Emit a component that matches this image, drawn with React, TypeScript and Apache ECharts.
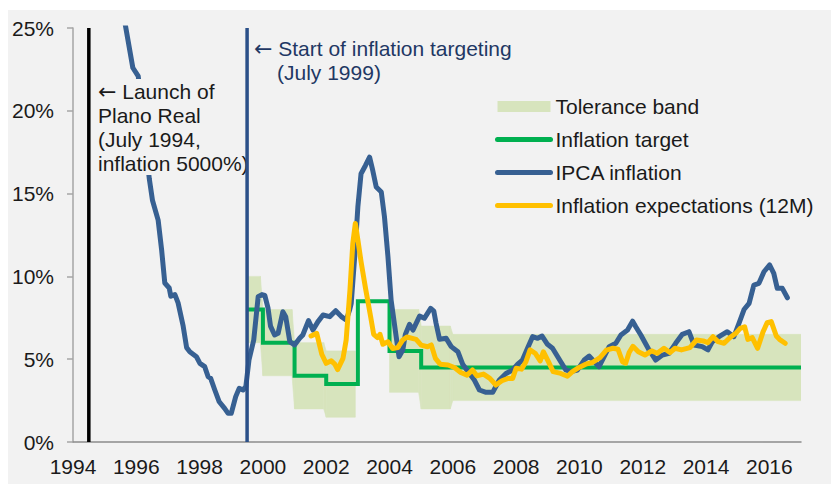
import React, { useEffect, useRef } from 'react';
import * as echarts from 'echarts';

// ---------- data ----------
const ipcaYears = [
  1995.57, 1995.67, 1995.89, 1996.06, 1996.41, 1996.51, 1996.69, 1996.8, 1996.9, 1997.04,
  1997.09, 1997.22, 1997.32, 1997.48, 1997.59, 1997.69, 1997.9, 1998.01, 1998.16, 1998.27,
  1998.35, 1998.48, 1998.62, 1998.79, 1998.9, 1999.0, 1999.14, 1999.25, 1999.37, 1999.46,
  1999.56, 1999.71, 1999.85, 1999.97, 2000.06, 2000.16, 2000.24, 2000.37, 2000.48, 2000.63,
  2000.72, 2000.85, 2001.0, 2001.16, 2001.26, 2001.44, 2001.58, 2001.74, 2001.9, 2002.11,
  2002.3, 2002.48, 2002.63, 2002.74, 2002.79, 2002.9, 2003.0, 2003.1, 2003.24, 2003.37,
  2003.47, 2003.58, 2003.74, 2003.84, 2003.95, 2004.05, 2004.21, 2004.3, 2004.42, 2004.5,
  2004.63, 2004.74, 2004.95, 2005.1, 2005.3, 2005.4, 2005.47, 2005.58, 2005.79, 2005.95,
  2006.16, 2006.31, 2006.52, 2006.68, 2006.84, 2007.05, 2007.26, 2007.47, 2007.68, 2007.89,
  2008.05, 2008.2, 2008.37, 2008.52, 2008.68, 2008.82, 2008.99, 2009.15, 2009.41, 2009.57,
  2009.73, 2009.94, 2010.15, 2010.31, 2010.47, 2010.62, 2010.78, 2010.94, 2011.15, 2011.31,
  2011.52, 2011.68, 2011.78, 2011.94, 2012.1, 2012.2, 2012.41, 2012.62, 2012.83, 2013.04,
  2013.25, 2013.46, 2013.62, 2013.88, 2014.06, 2014.2, 2014.41, 2014.67, 2014.88, 2015.04,
  2015.2, 2015.36, 2015.51, 2015.67, 2015.83, 2016.01, 2016.14, 2016.25, 2016.41, 2016.57,
];
const ipcaValues = [
  26.1, 25.0, 22.6, 22.1, 15.9, 14.6, 13.4, 11.6, 9.6, 9.3,
  8.8, 8.9, 8.4, 7.0, 5.7, 5.45, 5.15, 4.75, 4.55, 3.94,
  3.84, 3.14, 2.43, 2.03, 1.73, 1.73, 2.74, 3.24, 3.14, 3.34,
  4.95, 6.16, 8.77, 8.9, 8.85, 8.1, 7.0, 6.46, 6.56, 7.87,
  7.57, 6.06, 5.86, 6.26, 6.46, 7.33, 6.76, 7.27, 7.67, 7.57,
  7.93, 7.57, 7.37, 7.97, 8.37, 11.2, 14.2, 16.2, 16.7, 17.2,
  16.4, 15.4, 15.1, 13.6, 11.2, 8.57, 6.36, 5.15, 5.56, 6.5,
  7.1, 6.76, 7.6, 7.47, 8.07, 7.9, 7.17, 6.2, 6.26, 5.76,
  5.45, 4.7, 4.15, 3.74, 3.14, 3.0, 3.0, 3.74, 4.14, 4.35,
  4.7, 4.95, 5.7, 6.36, 6.26, 6.4, 5.9, 5.66, 4.85, 4.35,
  4.25, 4.35, 4.95, 5.19, 4.85, 4.55, 5.15, 5.76, 5.96, 6.46,
  6.76, 7.3, 6.96, 6.46, 5.9, 5.56, 4.95, 5.25, 5.36, 5.96,
  6.5, 6.66, 5.86, 5.76, 5.56, 6.06, 6.36, 6.66, 6.36, 7.17,
  8.0, 8.37, 9.48, 9.58, 10.28, 10.69, 10.18, 9.28, 9.28, 8.71,
];

const expYears = [
  2001.52, 2001.7, 2001.86, 2002.0, 2002.16, 2002.27, 2002.36, 2002.53, 2002.63, 2002.75,
  2002.84, 2002.92, 2003.0, 2003.1, 2003.24, 2003.4, 2003.5, 2003.62, 2003.7, 2003.79,
  2003.95, 2004.1, 2004.26, 2004.42, 2004.55, 2004.84, 2005.0, 2005.2, 2005.32, 2005.45,
  2005.6, 2005.85, 2006.05, 2006.25, 2006.45, 2006.62, 2006.76, 2006.97, 2007.17, 2007.36,
  2007.55, 2007.75, 2007.89, 2008.0, 2008.17, 2008.31, 2008.44, 2008.6, 2008.76, 2008.86,
  2009.02, 2009.17, 2009.41, 2009.62, 2009.78, 2009.99, 2010.2, 2010.41, 2010.65, 2010.85,
  2011.06, 2011.22, 2011.36, 2011.46, 2011.57, 2011.69, 2011.86, 2012.07, 2012.28, 2012.46,
  2012.67, 2012.86, 2013.02, 2013.22, 2013.49, 2013.7, 2013.91, 2014.06, 2014.22, 2014.38,
  2014.57, 2014.75, 2014.96, 2015.08, 2015.22, 2015.32, 2015.46, 2015.63, 2015.8, 2015.93,
  2016.06, 2016.22, 2016.32, 2016.5,
];
const expValues = [
  6.4, 6.56, 5.3, 4.75, 4.9, 4.7, 4.37, 5.05, 6.16, 9.18,
  12.0, 13.2, 12.2, 10.9, 9.3, 7.6, 6.5, 6.3, 6.5, 5.9,
  6.05, 5.65, 5.7, 6.16, 6.34, 6.2, 5.85, 5.75, 5.86, 5.05,
  4.7, 4.65, 4.5, 4.2, 4.04, 4.35, 4.0, 4.1, 3.84, 3.44,
  3.7, 3.84, 3.84, 4.45, 4.4, 4.85, 5.56, 5.36, 4.9, 5.45,
  4.85, 4.25, 4.14, 3.97, 4.25, 4.5, 4.7, 4.8, 5.1, 5.55,
  5.66, 5.6, 4.85, 4.75, 5.4, 5.78, 5.45, 5.25, 5.5, 5.36,
  5.66, 5.4, 5.66, 5.56, 5.7, 6.16, 6.1, 6.0, 6.36, 6.06,
  5.96, 6.3, 6.6, 6.86, 6.96, 6.2, 6.3, 5.66, 6.65, 7.2,
  7.27, 6.4, 6.2, 5.96,
];

const targetYears = [1999.5, 2000.0, 2001.0, 2002.0, 2003.0, 2004.0, 2005.0, 2017.0];
const targetValues = [8, 6, 4, 3.5, 8.5, 5.5, 4.5, 4.5];

const bandYears = [
  1999.5, 1999.92, 2000.0, 2000.92, 2001.0, 2001.92, 2002.0, 2002.92, 2003.0,
  2004.0, 2004.92, 2005.0, 2005.92, 2006.0, 2017.0,
];
const bandLow = [6, 6, 4, 4, 2, 2, 1.5, 1.5, null, 3, 3, 2, 2, 2.5, 2.5];
const bandHigh = [10, 10, 8, 8, 6, 6, 5.5, 5.5, null, 8, 8, 7, 7, 6.5, 6.5];

const planoRealYear = 1994.5;
const targetingStartYear = 1999.5;

const seriesNames = ['Tolerance band', 'Inflation target', 'IPCA inflation', 'Inflation expectations (12M)'];

// ---------- styling ----------
const FONT = '"Liberation Sans", Arial, sans-serif';
const ARROW_FONT = '"DejaVu Sans", sans-serif';
const BAND = '#d7e4bd';
const GREEN = '#00b050';
const BLUE = '#376092';
const YELLOW = '#ffc000';
const NAVY = '#2b5089';
const NAVY_TEXT = '#1f3864';
const BG = '#f2f2f2';
const NO_SYMBOL = { color: 'rgba(0,0,0,0)', borderWidth: 0, opacity: 0 };

const zip = (xs: number[], ys: (number | null)[]) => xs.map((x, i) => [x, ys[i]]);

const bandSegments: number[][] = [];
for (let i = 0; i < bandYears.length - 1; i++) {
  const l0 = bandLow[i], h0 = bandHigh[i], l1 = bandLow[i + 1], h1 = bandHigh[i + 1];
  if (l0 == null || h0 == null || l1 == null || h1 == null) continue;
  bandSegments.push([bandYears[i], bandYears[i + 1], l0, h0, l1, h1]);
}

const lineCommon = {
  type: 'line' as const,
  showSymbol: false,
  symbol: 'none',
  silent: true,
  clip: true,
};

const option: any = {
  animation: false,
  backgroundColor: BG,
  textStyle: { fontFamily: FONT },
  grid: { left: 65, top: 18, right: 30, bottom: 42, containLabel: false },
  xAxis: {
    type: 'value',
    min: 1994,
    max: 2017,
    interval: 2,
    axisLine: { show: true, lineStyle: { color: '#8c8c8c', width: 1.5 } },
    axisTick: { show: false },
    splitLine: { show: false },
    axisLabel: {
      color: '#1a1a1a',
      fontSize: 21,
      fontFamily: FONT,
      margin: 14,
      showMaxLabel: false,
      formatter: (v: number) => (v % 2 === 0 ? String(v) : ''),
    },
  },
  yAxis: {
    type: 'value',
    min: 0,
    max: 25,
    interval: 5,
    axisLine: { show: true, lineStyle: { color: '#a6a6a6', width: 1.5 } },
    axisTick: { show: true, length: 6, lineStyle: { color: '#a6a6a6', width: 1.5 } },
    splitLine: { show: false },
    axisLabel: {
      color: '#1a1a1a',
      fontSize: 21,
      fontFamily: FONT,
      margin: 19,
      formatter: '{value}%',
    },
  },
  legend: {
    orient: 'vertical',
    left: 487,
    top: 86,
    padding: 0,
    itemWidth: 53,
    itemHeight: 11,
    itemGap: 12,
    selectedMode: false,
    textStyle: { color: '#1a1a1a', fontSize: 21, fontFamily: FONT, lineHeight: 21 },
    lineStyle: { width: 5, cap: 'round' },
    data: [
      { name: seriesNames[0], icon: 'rect', itemStyle: { color: BAND, borderWidth: 0 } },
      { name: seriesNames[1], icon: 'inherit', itemStyle: NO_SYMBOL },
      { name: seriesNames[2], icon: 'inherit', itemStyle: NO_SYMBOL },
      { name: seriesNames[3], icon: 'inherit', itemStyle: NO_SYMBOL },
    ],
  },
  series: [
    {
      name: seriesNames[0],
      type: 'custom',
      silent: true,
      clip: true,
      z: 1,
      itemStyle: { color: BAND },
      encode: { x: [0, 1], y: [2, 3, 4, 5] },
      data: bandSegments,
      renderItem: (_params: any, api: any) => {
        const x0 = api.value(0), x1 = api.value(1);
        const pts = [
          api.coord([x0, api.value(2)]),
          api.coord([x0, api.value(3)]),
          api.coord([x1, api.value(5)]),
          api.coord([x1, api.value(4)]),
        ];
        return {
          type: 'polygon',
          shape: { points: pts },
          style: { fill: BAND, stroke: BAND, lineWidth: 0.6 },
        };
      },
    },
    {
      ...lineCommon,
      name: seriesNames[1],
      step: 'end',
      z: 2,
      color: GREEN,
      lineStyle: { color: GREEN, width: 4, cap: 'butt', join: 'miter' },
      data: zip(targetYears, targetValues),
    },
    {
      ...lineCommon,
      name: seriesNames[2],
      z: 3,
      color: BLUE,
      lineStyle: { color: BLUE, width: 5, cap: 'round', join: 'round' },
      data: zip(ipcaYears, ipcaValues),
    },
    {
      ...lineCommon,
      name: seriesNames[3],
      z: 4,
      color: YELLOW,
      lineStyle: { color: YELLOW, width: 5, cap: 'round', join: 'round' },
      data: zip(expYears, expValues),
    },
    {
      ...lineCommon,
      name: 'Plano Real',
      z: 6,
      color: '#000000',
      lineStyle: { color: '#000000', width: 3.5 },
      data: [[planoRealYear, 0], [planoRealYear, 25]],
    },
    {
      ...lineCommon,
      name: 'Inflation targeting',
      z: 6,
      color: NAVY,
      lineStyle: { color: NAVY, width: 3.5 },
      data: [[targetingStartYear, 0], [targetingStartYear, 25]],
    },
  ],
  graphic: [
    {
      type: 'text',
      x: 90,
      y: 69,
      z: 5,
      silent: true,
      style: {
        text: '{a|\u2190} Launch of\nPlano Real\n(July 1994,\ninflation 5000%)',
        fontSize: 21,
        fontFamily: FONT,
        fill: '#1a1a1a',
        lineHeight: 24,
        verticalAlign: 'top',
        backgroundColor: BG,
        rich: {
          a: { fontFamily: ARROW_FONT, fontSize: 22, lineHeight: 24, fill: '#1a1a1a' },
        },
      },
    },
    {
      type: 'text',
      x: 246,
      y: 38,
      z: 5,
      silent: true,
      style: {
        text: '{a|\u2190} Start of inflation targeting',
        fontSize: 21,
        fontFamily: FONT,
        fill: NAVY_TEXT,
        verticalAlign: 'middle',
        rich: {
          a: { fontFamily: ARROW_FONT, fontSize: 22, fill: NAVY_TEXT },
        },
      },
    },
    {
      type: 'text',
      x: 269,
      y: 62,
      z: 5,
      silent: true,
      style: {
        text: '(July 1999)',
        fontSize: 21,
        fontFamily: FONT,
        fill: NAVY_TEXT,
        verticalAlign: 'middle',
      },
    },
  ],
};

export default function App() {
  const ref = useRef<HTMLDivElement>(null);
  useEffect(() => {
    if (!ref.current) return;
    const chart = echarts.init(ref.current, null, { renderer: 'svg' });
    chart.setOption(option);
    return () => chart.dispose();
  }, []);
  return (
    <div
      ref={ref}
      style={{ position: 'absolute', left: 8, top: 10, width: 823, height: 474, background: BG }}
    />
  );
}
